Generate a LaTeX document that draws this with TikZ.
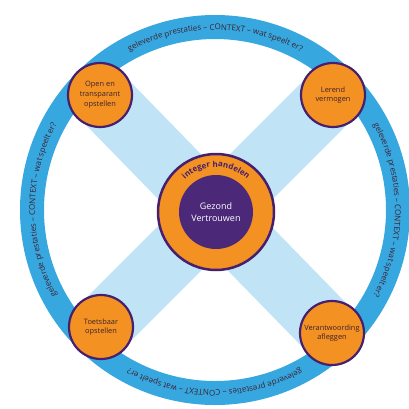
\documentclass[tikz,border=0pt]{standalone}
\usepackage{fontspec}
\setmainfont{Open Sans}
\usepackage{tikz}
\usetikzlibrary
  {
    decorations.text, % text along the blue ring
    backgrounds,      % ring and bands behind the circles
  }

\definecolor{ringblauw}{HTML}{37A7E0}
\definecolor{lichtblauw}{HTML}{C0E4F6}
\definecolor{oranje}{HTML}{F39122}
\definecolor{rand}{HTML}{46206E}
\definecolor{kernpaars}{HTML}{4C2878}
\definecolor{tekst}{HTML}{3E2230}

\begin{document}
\begin{tikzpicture}[x=1pt, y=1pt,
    punt/.style={circle, draw=rand, line width=2.2pt, fill=oranje, minimum size=64pt,
      inner sep=0pt, align=center, text=tekst, font=\fontsize{7.4}{9.8}\selectfont},
    band/.style={lichtblauw, line width=62pt},
    ringtekst/.style={decorate, decoration={text along path, text align=center,
      text={|\fontsize{8}{9}\selectfont\color{tekst}|geleverde prestaties – CONTEXT – wat speelt er?}}},
  ]
    \useasboundingbox (-215,-198) rectangle (194,210);

    % de vier hoeken
    \node[punt] (open)    at (-115,115)  {Open en\\transparant\\opstellen};
    \node[punt] (lerend)  at (118,115)   {Lerend\\vermogen};
    \node[punt] (toets)   at (-114,-117) {Toetsbaar\\opstellen};
    \node[punt] (verantw) at (117,-123)  {Verantwoording\\afleggen};

    % het midden
    \node[circle, draw=rand, line width=2.5pt, fill=oranje, minimum size=116pt] (kern) at (1,-2) {};
    \node[circle, fill=kernpaars, minimum size=74pt, align=center, text=white,
      font=\fontsize{9}{11.5}\selectfont] (gezond) at (kern) {Gezond\\Vertrouwen};
    \path[decorate, decoration={text along path, text align=center,
        text={|\bfseries\fontsize{8}{9}\selectfont\color{rand}|integer handelen}}]
      ([shift={(140:45pt)}]kern.center) arc[start angle=140, end angle=40, radius=45pt];

    \begin{scope}[on background layer]
      \draw[ringblauw, line width=24pt] (0,0) circle[radius=183pt];
      \draw[band] (open.center) -- (verantw.center);
      \draw[band] (lerend.center) -- (toets.center);
    \end{scope}

    % tekst rond de ring, met de klok mee
    \path[ringtekst] (135:180) arc[start angle=135, end angle=45, radius=180pt];
    \path[ringtekst] (45:180) arc[start angle=45, end angle=-45, radius=180pt];
    \path[ringtekst] (-45:180) arc[start angle=-45, end angle=-135, radius=180pt];
    \path[ringtekst] (-135:180) arc[start angle=-135, end angle=-225, radius=180pt];
\end{tikzpicture}
\end{document}
